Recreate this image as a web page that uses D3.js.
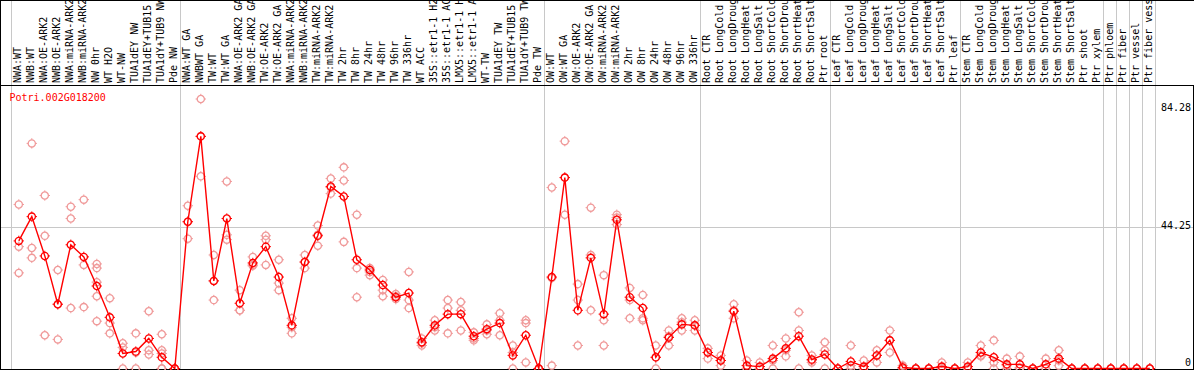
<!DOCTYPE html>
<html>
<head>
<meta charset="utf-8">
<script src="https://cdn.jsdelivr.net/npm/d3@7"></script>
<style>
  body { margin: 0; background: #fff; }
  text { font-family: "DejaVu Sans Mono", monospace; font-size: 10px; }
</style>
</head>
<body>
<div id="chart"></div>
<script>
var svgWidth = 1194;
var svgHeight = 370;

var gene = "Potri.002G018200";

var samples = [
  "NWA:WT", "NWB:WT", "NWA:OE-ARK2", "NWB:OE-ARK2", "NWA:miRNA-ARK2", "NWB:miRNA-ARK2",
  "NW 0hr", "WT H2O", "WT-NW", "TUA1dEY NW", "TUA1dEY+TUB15 NW", "TUA1dY+TUB9 NW", "Pde NW",
  "NWA:WT GA", "NWBWT GA", "TW:WT", "TW:WT GA", "NWA:OE-ARK2 GA", "NWB:OE-ARK2 GA",
  "TW:OE-ARK2", "TW:OE-ARK2 GA", "NWA:miRNA-ARK2 GA", "NWB:miRNA-ARK2 GA", "TW:miRNA-ARK2",
  "TW:miRNA-ARK2 GA", "TW 2hr", "TW 8hr", "TW 24hr", "TW 48hr", "TW 96hr", "TW 336hr",
  "WT ACC", "35S::etr1-1 H2O", "35S::etr1-1 ACC", "LMX5::etr1-1 H2O", "LMX5::etr1-1 ACC",
  "WT-TW", "TUA1dEY TW", "TUA1dEY+TUB15 TW", "TUA1dY+TUB9 TW", "Pde TW",
  "OW:WT", "OW:WT GA", "OW:OE-ARK2", "OW:OE-ARK2 GA", "OW:miRNA-ARK2", "OW:miRNA-ARK2 GA",
  "OW 2hr", "OW 8hr", "OW 24hr", "OW 48hr", "OW 96hr", "OW 336hr",
  "Root CTR", "Root LongCold", "Root LongDrought", "Root LongHeat", "Root LongSalt",
  "Root ShortCold", "Root ShortDrought", "Root ShortHeat", "Root ShortSalt", "Ptr root",
  "Leaf CTR", "Leaf LongCold", "Leaf LongDrought", "Leaf LongHeat", "Leaf LongSalt",
  "Leaf ShortCold", "Leaf ShortDrought", "Leaf ShortHeat", "Leaf ShortSalt", "Ptr leaf",
  "Stem CTR", "Stem LongCold", "Stem LongDrought", "Stem LongHeat", "Stem LongSalt",
  "Stem ShortCold", "Stem ShortDrought", "Stem ShortHeat", "Stem ShortSalt", "Ptr shoot",
  "Ptr xylem", "Ptr phloem", "Ptr fiber", "Ptr vessel", "Ptr fiber vessel"
];

// first sample of each group (grey separators)
var groupStarts = ["NWA:WT", "NWA:WT GA", "OW:WT", "Root CTR", "Leaf CTR", "Stem CTR",
  "Ptr phloem", "Ptr fiber", "Ptr vessel", "Ptr fiber vessel"];

var means = [
  39.9, 47.5, 35.2, 20.1, 38.7, 34.9, 25.8, 16.0, 4.7, 5.3, 9.4, 3.5, 0,
  45.9, 72.6, 27.4, 46.9, 20.4, 33.0, 38.1, 28.6, 13.5, 33.3, 41.5, 56.9, 53.8, 34.0,
  30.8, 26.1, 22.3, 23.6, 8.2, 13.5, 17.0, 17.0, 10.1, 12.3, 14.2, 4.1, 10.4, 0,
  28.6, 59.7, 18.2, 34.6, 17.0, 46.5, 22.3, 18.9, 3.5, 9.7, 13.8, 13.5,
  5.0, 2.5, 17.9, 0.9, 0.6, 3.1, 6.3, 10.1, 2.8, 4.4,
  0, 2.2, 0.6, 4.1, 8.8, 0.3, 0, 0, 0.6, 0,
  0.6, 5.0, 3.5, 1.3, 1.3, 0, 1.3, 3.1, 0, 0, 0,
  0, 0, 0, 0
];

var replicates = [
  [51.3, 38.1, 29.9], [70.4, 37.7, 34.6], [54.1, 41.5, 10.4], [30.8, 20.1, 9.1],
  [50.6, 46.9, 18.9], [52.8, 32.4, 19.2], [32.7, 31.4, 27.0, 22.6, 14.8], [22.0, 14.2, 11.0],
  [7.9, 6.6, 0], [11.0, 5.0, 0], [17.9, 5.7, 4.4], [10.7, 5.7, 4.7, 0, 0], [0, 0, 0],
  [50.9, 45.9, 40.6], [84.28, 72.6, 60.1], [35.5, 27.4, 21.4], [58.5, 41.8, 40.3],
  [24.5, 18.2, 18.2], [34.9, 32.4, 32.1], [41.5, 40.3, 32.4], [34.0, 26.7, 24.5],
  [15.7, 12.9, 11.0], [35.5, 33.3, 31.4], [44.7, 41.8, 38.4], [59.4, 56.6, 54.7],
  [62.9, 58.8, 39.6], [48.1, 31.4, 22.3], [31.4, 30.2, 29.2], [27.7, 24.5, 22.6],
  [23.3, 21.7, 22.6], [30.2, 21.4, 18.9], [9.4, 7.9, 7.2], [15.1, 12.9, 11.9],
  [21.4, 18.9, 11.0], [20.8, 18.2, 11.9], [11.3, 9.4, 8.8], [13.8, 11.9, 10.7],
  [17.3, 15.1, 10.4], [7.2, 5.0, 0], [15.1, 14.2, 1.9], [0, 0, 0],
  [56.6, 28.3, 0.9], [71.1, 59.7, 48.1], [26.4, 21.4, 7.2], [50.3, 35.5, 18.2],
  [29.2, 15.1, 7.2], [48.1, 47.2, 45.0], [25.2, 21.4, 15.7], [23.0, 15.7, 15.1],
  [7.2, 3.5, 0], [11.9, 10.1, 7.2], [15.7, 14.5, 11.9], [15.1, 13.5, 11.9],
  [6.3, 5.0, 3.1], [4.1, 2.5, 0.9], [20.1, 18.2, 15.7], [2.5, 0, 0], [1.9, 0, 0],
  [7.2, 2.5, 0], [9.4, 5.7, 3.8], [17.6, 11.9, 0], [4.1, 2.5, 1.9], [8.2, 5.7, 0],
  [0, 0, 0], [7.2, 0.9, 0], [2.5, 0, 0], [5.7, 4.1, 1.9], [11.9, 8.8, 5.0],
  [0.9, 0, 0], [0, 0, 0], [0, 0, 0], [1.9, 0, 0], [0, 0, 0],
  [1.9, 0, 0], [7.2, 4.1, 3.8], [8.8, 1.9, 0], [3.1, 0.9, 0], [3.8, 0.3, 0],
  [0, 0, 0], [3.1, 0, 0], [5.7, 2.5, 0.9], [0, 0, 0], [0, 0, 0], [0, 0, 0],
  [0, 0, 0], [0, 0, 0], [0, 0, 0], [0, 0, 0]
];

var yTicks = [84.28, 44.25, 0];

var headerBottom = 85;
var plotRight = 1193;
var plotBottom = 369;

var svg = d3.select("#chart")
  .append("svg")
  .attr("width", svgWidth)
  .attr("height", svgHeight);

var x = d3.scaleBand()
  .domain(samples)
  .range([10.8, 10.8 + 13 * samples.length])
  .padding(0);

var cx = d => x(d) + 8;

var y = d3.scaleLinear()
  .domain([0, 84.28])
  .range([368.5, 99]);

// grey gridline at the middle tick
svg.append("line")
  .attr("x1", 0).attr("x2", plotRight)
  .attr("y1", Math.round(y(44.25)) + 0.5).attr("y2", Math.round(y(44.25)) + 0.5)
  .attr("stroke", "#c8c8c8");

// group separators
svg.selectAll(".sep")
  .data(groupStarts)
  .enter()
  .append("line")
  .attr("class", "sep")
  .attr("x1", d => Math.round(x(d)) + 0.5)
  .attr("x2", d => Math.round(x(d)) + 0.5)
  .attr("y1", 0).attr("y2", plotBottom)
  .attr("stroke", "#c8c8c8");

var endX = Math.round(x.range()[1]) + 0.5;
svg.append("line")
  .attr("x1", endX).attr("x2", endX)
  .attr("y1", 0).attr("y2", plotBottom)
  .attr("stroke", "#c8c8c8");

// header labels
svg.selectAll(".lab")
  .data(samples)
  .enter()
  .append("text")
  .attr("class", "lab")
  .attr("transform", d => `translate(${cx(d) + 2.2}, 83) rotate(-90)`)
  .attr("fill", "#000")
  .text(d => d);

// frame
svg.append("line").attr("x1", 0).attr("x2", svgWidth).attr("y1", 0.5).attr("y2", 0.5).attr("stroke", "#000");
svg.append("line").attr("x1", 0).attr("x2", svgWidth).attr("y1", headerBottom + 0.5).attr("y2", headerBottom + 0.5).attr("stroke", "#000");
svg.append("line").attr("x1", 0.5).attr("x2", 0.5).attr("y1", 0).attr("y2", plotBottom + 1).attr("stroke", "#000");
svg.append("line").attr("x1", plotRight + 0.5).attr("x2", plotRight + 0.5).attr("y1", headerBottom).attr("y2", plotBottom + 1).attr("stroke", "#000");
svg.append("line").attr("x1", 0).attr("x2", plotRight + 1).attr("y1", plotBottom + 0.5).attr("y2", plotBottom + 0.5).attr("stroke", "#000");

// y tick labels on the right
var tickOffset = [12, 2, -3];
svg.selectAll(".ytick")
  .data(yTicks)
  .enter()
  .append("text")
  .attr("class", "ytick")
  .attr("x", 1191)
  .attr("y", (d, i) => y(d) + tickOffset[i])
  .attr("text-anchor", "end")
  .attr("fill", "#000")
  .text(d => d);

// gene name
svg.append("text")
  .attr("x", 9.5)
  .attr("y", 101)
  .attr("fill", "#ff0000")
  .text(gene);

function marker(g, color, fill) {
  g.append("circle")
    .attr("r", 3.6)
    .attr("fill", fill)
    .attr("stroke", color)
    .attr("stroke-width", 1.3);
  g.append("path")
    .attr("d", "M0,-3.6V-5.2M0,3.6V5.2M-3.6,0H-5.2M3.6,0H5.2")
    .attr("stroke", color)
    .attr("stroke-width", 1);
}

// replicate points
var repPoints = [];
samples.forEach(function(s, i) {
  replicates[i].forEach(function(v) { repPoints.push({s: s, v: v}); });
});

svg.selectAll(".rep")
  .data(repPoints)
  .enter()
  .append("g")
  .attr("class", "rep")
  .attr("transform", d => `translate(${cx(d.s)}, ${y(d.v)})`)
  .each(function() { marker(d3.select(this), "#f09a9a", "none"); });

// mean line
var line = d3.line()
  .x((d, i) => cx(samples[i]))
  .y(d => y(d));

svg.append("path")
  .datum(means)
  .attr("d", line)
  .attr("fill", "none")
  .attr("stroke", "#ff0000")
  .attr("stroke-width", 1.4);

svg.selectAll(".mean")
  .data(means)
  .enter()
  .append("g")
  .attr("class", "mean")
  .attr("transform", (d, i) => `translate(${cx(samples[i])}, ${y(d)})`)
  .each(function() { marker(d3.select(this), "#ff0000", "none"); });
</script>
</body>
</html>
